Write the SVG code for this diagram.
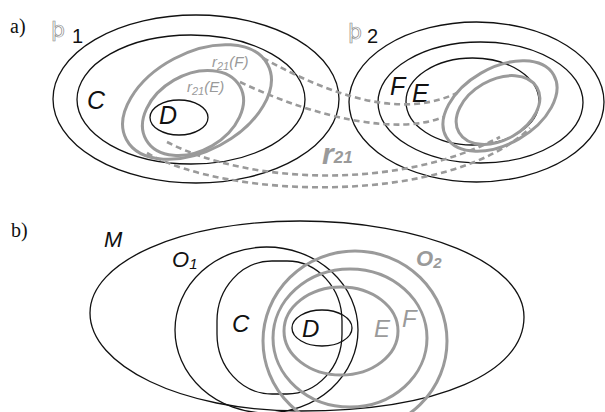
<svg xmlns="http://www.w3.org/2000/svg" width="605" height="412" viewBox="0 0 605 412">
<style>
.k{fill:none;stroke:#111;stroke-width:1.3}
.g{fill:none;stroke:#9a9a9a;stroke-width:3}
.d{fill:none;stroke:#9a9a9a;stroke-width:2.6;stroke-dasharray:6 4}
.lab{font-family:"Liberation Sans",Arial,sans-serif;font-style:italic;fill:#111}
.gl{font-family:"Liberation Sans",Arial,sans-serif;font-style:italic;fill:#9a9a9a}
.ser{font-family:"Liberation Serif","Times New Roman",serif;font-size:20px;fill:#111}
.num{font-family:"Liberation Sans",Arial,sans-serif;font-size:20px;fill:#111}
.sym{font-family:"DejaVu Sans",sans-serif;fill:none;stroke:#8a8a8a;stroke-width:0.7}
</style>
<rect width="605" height="412" fill="#fff"/>
<text class="ser" x="10" y="33">a)</text>
<text class="ser" x="11" y="237">b)</text>
<g id="space1">
<text class="sym" x="51" y="37" font-size="22">þ</text>
<text class="num" x="72" y="43">1</text>
<ellipse class="k" cx="196" cy="99" rx="143" ry="84"/>
</g>
<g id="C1">
<ellipse class="k" cx="191" cy="99.5" rx="114" ry="64.5"/>
<text class="lab" x="87" y="109" font-size="25">C</text>
</g>
<g id="r21F">
<ellipse class="g" cx="197" cy="102" rx="80" ry="49" transform="rotate(-28 197 102)"/>
<text class="gl" x="212" y="67" font-size="15">r<tspan font-size="11" dy="3">21</tspan><tspan dy="-3">(F)</tspan></text>
</g>
<g id="r21E">
<ellipse class="g" cx="193" cy="113" rx="54" ry="38" transform="rotate(-30 193 113)"/>
<text class="gl" x="187" y="92" font-size="15">r<tspan font-size="11" dy="3">21</tspan><tspan dy="-3">(E)</tspan></text>
</g>
<g id="D1">
<ellipse class="k" cx="179" cy="117.5" rx="29" ry="17.5"/>
<text class="lab" x="159" y="124" font-size="25">D</text>
</g>
<g id="space2">
<text class="sym" x="348" y="39" font-size="22">þ</text>
<text class="num" x="367" y="43">2</text>
<ellipse class="k" cx="476.5" cy="102" rx="127.5" ry="80"/>
</g>
<g id="F2">
<ellipse class="k" cx="480.5" cy="102.5" rx="102.5" ry="60.5"/>
<text class="lab" x="390" y="95" font-size="25">F</text>
</g>
<g id="E2">
<ellipse class="k" cx="472.5" cy="101.5" rx="66.5" ry="43.5"/>
<text class="lab" x="412" y="102" font-size="25">E</text>
</g>
<g id="gray2">
<ellipse class="g" cx="500" cy="106" rx="62" ry="38" transform="rotate(-30 500 106)"/>
<ellipse class="g" cx="498" cy="110" rx="45" ry="30" transform="rotate(-30 498 110)"/>
</g>
<g id="connectors">
<path class="d" d="M263,58 C330,95 400,120 457,93"/>
<path class="d" d="M240,82 C320,120 400,135 443,117"/>
<path class="d" d="M167,142 C250,185 400,190 500,137"/>
<path class="d" d="M147,153 C230,200 450,205 530,128"/>
</g>
<text class="gl" x="322" y="164" font-size="30" font-weight="bold">r<tspan font-size="17" dy="-1">21</tspan></text>
<g id="M">
<path class="k" d="M300,221 C420,221 524,262 524,317 C524,372 440,411 300,411 C180,411 90,365 90,313 C90,262 180,221 300,221 Z"/>
<text class="lab" x="104" y="247" font-size="22">M</text>
</g>
<g id="O1">
<ellipse class="k" cx="266.5" cy="330" rx="91.5" ry="83"/>
<text class="lab" x="172" y="267" font-size="22" font-style="normal">O<tspan font-size="15" dy="2">1</tspan></text>
</g>
<g id="C">
<rect class="k" x="217" y="261" width="125" height="133" rx="55" ry="60"/>
<text class="lab" x="232" y="332" font-size="24">C</text>
</g>
<g id="O2">
<ellipse class="g" cx="355" cy="341" rx="92" ry="90"/>
<text class="gl" x="416" y="266" font-size="22" font-weight="bold">O<tspan font-size="15" dy="2">2</tspan></text>
</g>
<g id="F">
<ellipse class="g" cx="350" cy="338" rx="77" ry="69"/>
<text class="gl" x="402" y="327" font-size="24">F</text>
</g>
<g id="E">
<ellipse class="g" cx="341" cy="331" rx="57" ry="44"/>
<text class="gl" x="374" y="337" font-size="24">E</text>
</g>
<g id="D">
<ellipse class="k" cx="322" cy="328" rx="30" ry="18"/>
<text class="lab" x="302" y="337" font-size="24">D</text>
</g>
</svg>
